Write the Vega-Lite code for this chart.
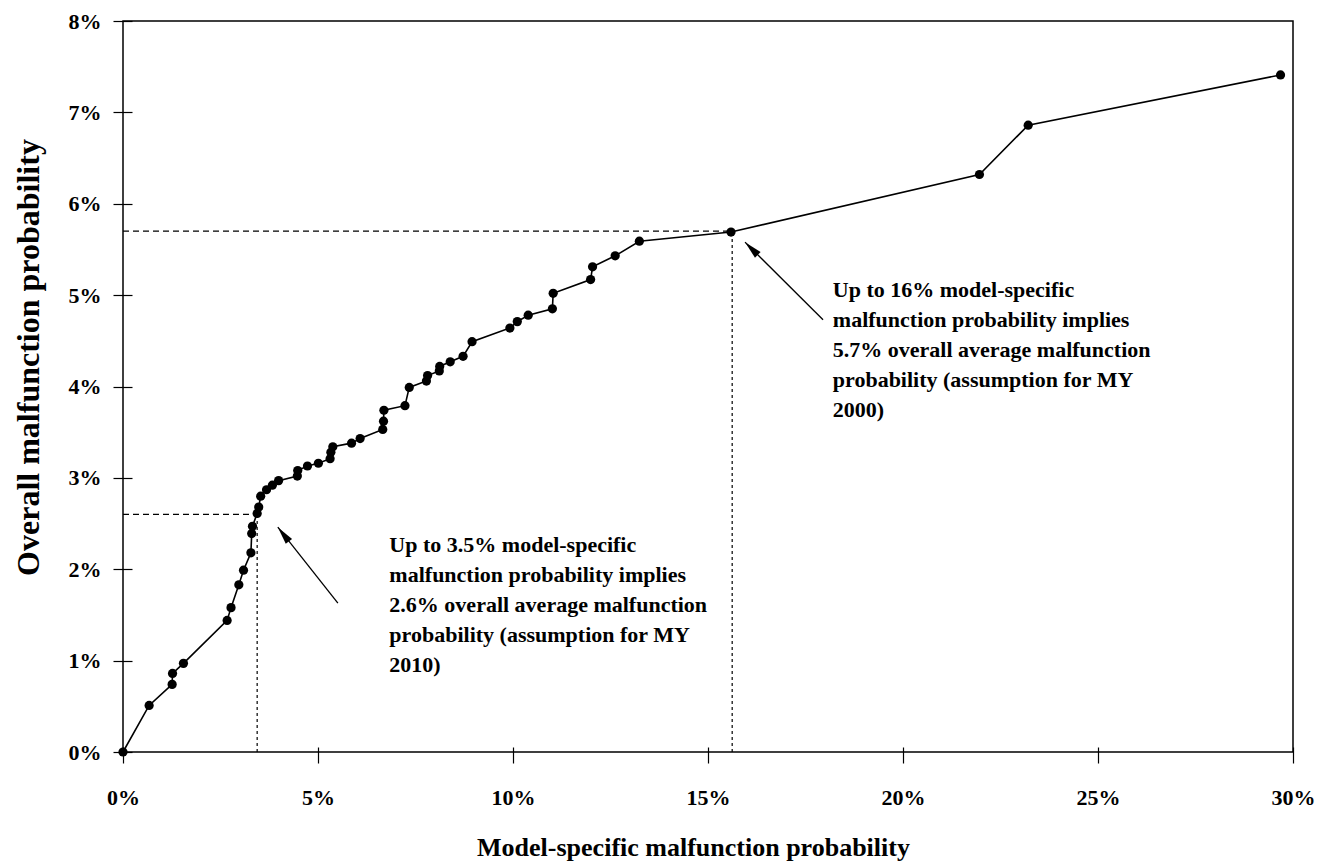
{
  "$schema": "https://vega.github.io/schema/vega-lite/v6.json",
  "width": 1170,
  "height": 731,
  "autosize": {"type": "none"},
  "padding": {"left": 123, "top": 21, "right": 26, "bottom": 112},
  "background": "white",
  "view": {"stroke": "black", "strokeWidth": 1.5},
  "config": {
    "font": "Liberation Serif",
    "axis": {
      "domain": false, "grid": false,
      "labelFont": "Liberation Serif", "labelFontWeight": "bold", "labelFontSize": 22, "labelColor": "black",
      "tickColor": "black", "tickWidth": 1.2,
      "titleFont": "Liberation Serif", "titleFontWeight": "bold", "titleFontSize": 26, "titleColor": "black"
    }
  },
  "datasets": {
    "curve": [
      {"x": 0, "y": 0}, {"x": 0.67, "y": 0.51}, {"x": 1.26, "y": 0.74}, {"x": 1.27, "y": 0.86},
      {"x": 1.55, "y": 0.97}, {"x": 2.67, "y": 1.44}, {"x": 2.77, "y": 1.58}, {"x": 2.97, "y": 1.83},
      {"x": 3.09, "y": 1.99}, {"x": 3.28, "y": 2.18}, {"x": 3.3, "y": 2.39}, {"x": 3.32, "y": 2.47},
      {"x": 3.44, "y": 2.61}, {"x": 3.48, "y": 2.68}, {"x": 3.53, "y": 2.8}, {"x": 3.68, "y": 2.87},
      {"x": 3.83, "y": 2.92}, {"x": 3.99, "y": 2.97}, {"x": 4.47, "y": 3.02}, {"x": 4.48, "y": 3.08},
      {"x": 4.73, "y": 3.13}, {"x": 5.01, "y": 3.16}, {"x": 5.31, "y": 3.21}, {"x": 5.33, "y": 3.28},
      {"x": 5.38, "y": 3.34}, {"x": 5.86, "y": 3.38}, {"x": 6.08, "y": 3.43}, {"x": 6.66, "y": 3.53},
      {"x": 6.68, "y": 3.62}, {"x": 6.69, "y": 3.74}, {"x": 7.23, "y": 3.79}, {"x": 7.34, "y": 3.99},
      {"x": 7.78, "y": 4.06}, {"x": 7.81, "y": 4.12}, {"x": 8.11, "y": 4.17}, {"x": 8.12, "y": 4.22},
      {"x": 8.39, "y": 4.27}, {"x": 8.72, "y": 4.33}, {"x": 8.95, "y": 4.49}, {"x": 9.92, "y": 4.64},
      {"x": 10.11, "y": 4.71}, {"x": 10.39, "y": 4.78}, {"x": 11.01, "y": 4.85}, {"x": 11.03, "y": 5.02},
      {"x": 11.99, "y": 5.17}, {"x": 12.04, "y": 5.31}, {"x": 12.62, "y": 5.43}, {"x": 13.24, "y": 5.59},
      {"x": 15.59, "y": 5.69}, {"x": 21.96, "y": 6.32}, {"x": 23.21, "y": 6.86}, {"x": 29.68, "y": 7.41}
    ],
    "hguides": [
      {"x": 0, "x2": 3.44, "y": 2.6},
      {"x": 0, "x2": 15.62, "y": 5.7}
    ],
    "vguides": [
      {"x": 3.44, "y": 0, "y2": 2.6},
      {"x": 15.62, "y": 0, "y2": 5.7}
    ],
    "notes": [
      {"x": 18.2, "y": 4.98, "text": "Up to 16% model-specific\nmalfunction probability implies\n5.7% overall average malfunction\nprobability (assumption for MY\n2000)"},
      {"x": 6.83, "y": 2.19, "text": "Up to 3.5% model-specific\nmalfunction probability implies\n2.6% overall average malfunction\nprobability (assumption for MY\n2010)"}
    ],
    "arrow1": [{"x": 5.51, "y": 1.63, "x2": 3.97, "y2": 2.46}],
    "arrow2": [{"x": 17.95, "y": 4.73, "x2": 15.95, "y2": 5.58}]
  },
  "layer": [
    {
      "data": {"name": "hguides"},
      "mark": {"type": "rule", "color": "black", "strokeWidth": 1.2, "strokeDash": [6, 4]},
      "encoding": {
        "x": {"field": "x", "type": "quantitative", "scale": {"domain": [0, 30], "nice": false},
          "axis": {"title": "Model-specific malfunction probability", "values": [0, 5, 10, 15, 20, 25, 30],
            "labelExpr": "datum.value + '%'", "offset": -5, "tickSize": 16, "labelPadding": 24, "labelFlush": false,
            "titleX": 570, "titleY": 108, "titleAlign": "center", "titleBaseline": "alphabetic"}},
        "x2": {"field": "x2"},
        "y": {"field": "y", "type": "quantitative", "scale": {"domain": [0, 8], "nice": false},
          "axis": {"title": "Overall malfunction probability", "values": [0, 1, 2, 3, 4, 5, 6, 7, 8],
            "labelExpr": "datum.value + '%'", "offset": -9, "tickSize": 19, "labelPadding": 12, "labelFlush": false,
            "labelBaseline": "middle", "titleFontSize": 32,
            "titleAngle": -90, "titleX": -104, "titleY": 336, "titleAlign": "center", "titleBaseline": "middle"}}
      }
    },
    {
      "data": {"name": "vguides"},
      "mark": {"type": "rule", "color": "black", "strokeWidth": 1.2, "strokeDash": [3, 3]},
      "encoding": {
        "x": {"field": "x", "type": "quantitative"},
        "y": {"field": "y", "type": "quantitative"},
        "y2": {"field": "y2"}
      }
    },
    {
      "data": {"name": "curve"},
      "mark": {"type": "line", "color": "black", "strokeWidth": 1.6},
      "encoding": {
        "x": {"field": "x", "type": "quantitative"},
        "y": {"field": "y", "type": "quantitative"},
        "order": {"field": "y", "type": "quantitative"}
      }
    },
    {
      "data": {"name": "curve"},
      "mark": {"type": "circle", "color": "black", "opacity": 1, "size": 85},
      "encoding": {
        "x": {"field": "x", "type": "quantitative"},
        "y": {"field": "y", "type": "quantitative"}
      }
    },
    {
      "data": {"name": "arrow1"},
      "mark": {"type": "rule", "color": "black", "strokeWidth": 1.3},
      "encoding": {
        "x": {"field": "x", "type": "quantitative"},
        "y": {"field": "y", "type": "quantitative"},
        "x2": {"field": "x2"},
        "y2": {"field": "y2"}
      }
    },
    {
      "data": {"name": "arrow1"},
      "mark": {"type": "point", "shape": "M0,0L-0.4,1.8L0.4,1.8Z", "filled": true, "color": "black", "opacity": 1, "size": 400, "angle": -38},
      "encoding": {
        "x": {"field": "x2", "type": "quantitative"},
        "y": {"field": "y2", "type": "quantitative"}
      }
    },
    {
      "data": {"name": "arrow2"},
      "mark": {"type": "rule", "color": "black", "strokeWidth": 1.3},
      "encoding": {
        "x": {"field": "x", "type": "quantitative"},
        "y": {"field": "y", "type": "quantitative"},
        "x2": {"field": "x2"},
        "y2": {"field": "y2"}
      }
    },
    {
      "data": {"name": "arrow2"},
      "mark": {"type": "point", "shape": "M0,0L-0.4,1.8L0.4,1.8Z", "filled": true, "color": "black", "opacity": 1, "size": 400, "angle": -45},
      "encoding": {
        "x": {"field": "x2", "type": "quantitative"},
        "y": {"field": "y2", "type": "quantitative"}
      }
    },
    {
      "data": {"name": "notes"},
      "mark": {"type": "text", "align": "left", "baseline": "alphabetic", "lineBreak": "\n", "lineHeight": 30,
        "font": "Liberation Serif", "fontWeight": "bold", "fontSize": 22, "color": "black"},
      "encoding": {
        "x": {"field": "x", "type": "quantitative"},
        "y": {"field": "y", "type": "quantitative"},
        "text": {"field": "text"}
      }
    }
  ]
}
